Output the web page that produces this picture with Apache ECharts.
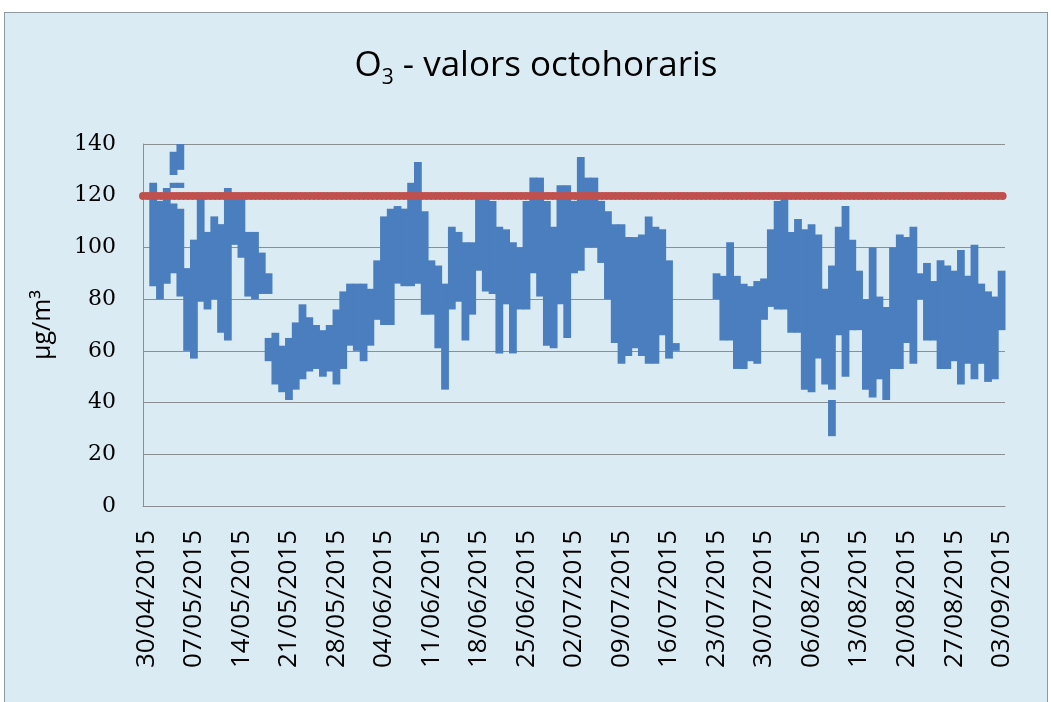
<!DOCTYPE html>
<html>
<head>
<meta charset="utf-8">
<script src="https://cdn.jsdelivr.net/npm/echarts@6/dist/echarts.min.js"></script>
<style>
html,body{margin:0;padding:0;background:#ffffff;}
#panel{position:absolute;left:4px;top:12px;width:1042px;height:700px;background:#dbebf3;border:1px solid #8f9aa0;}
#chart{position:absolute;left:0;top:0;width:1051px;height:702px;}
</style>
</head>
<body>
<div id="panel"></div>
<div id="chart"></div>
<script>
const days = [
'30/04/2015',
'01/05/2015','02/05/2015','03/05/2015','04/05/2015','05/05/2015','06/05/2015','07/05/2015','08/05/2015','09/05/2015','10/05/2015',
'11/05/2015','12/05/2015','13/05/2015','14/05/2015','15/05/2015','16/05/2015','17/05/2015','18/05/2015','19/05/2015','20/05/2015',
'21/05/2015','22/05/2015','23/05/2015','24/05/2015','25/05/2015','26/05/2015','27/05/2015','28/05/2015','29/05/2015','30/05/2015','31/05/2015',
'01/06/2015','02/06/2015','03/06/2015','04/06/2015','05/06/2015','06/06/2015','07/06/2015','08/06/2015','09/06/2015','10/06/2015',
'11/06/2015','12/06/2015','13/06/2015','14/06/2015','15/06/2015','16/06/2015','17/06/2015','18/06/2015','19/06/2015','20/06/2015',
'21/06/2015','22/06/2015','23/06/2015','24/06/2015','25/06/2015','26/06/2015','27/06/2015','28/06/2015','29/06/2015','30/06/2015',
'01/07/2015','02/07/2015','03/07/2015','04/07/2015','05/07/2015','06/07/2015','07/07/2015','08/07/2015','09/07/2015','10/07/2015',
'11/07/2015','12/07/2015','13/07/2015','14/07/2015','15/07/2015','16/07/2015','17/07/2015','18/07/2015','19/07/2015','20/07/2015',
'21/07/2015','22/07/2015','23/07/2015','24/07/2015','25/07/2015','26/07/2015','27/07/2015','28/07/2015','29/07/2015','30/07/2015','31/07/2015',
'01/08/2015','02/08/2015','03/08/2015','04/08/2015','05/08/2015','06/08/2015','07/08/2015','08/08/2015','09/08/2015','10/08/2015',
'11/08/2015','12/08/2015','13/08/2015','14/08/2015','15/08/2015','16/08/2015','17/08/2015','18/08/2015','19/08/2015','20/08/2015',
'21/08/2015','22/08/2015','23/08/2015','24/08/2015','25/08/2015','26/08/2015','27/08/2015','28/08/2015','29/08/2015','30/08/2015','31/08/2015',
'01/09/2015','02/09/2015','03/09/2015'
];

// daily highest and lowest octohorari value (µg/m3)
const dayHigh = [
null,125,118,123,117,115,92,103,119,106,
112,109,123,119,119,106,106,98,90,67,
62,65,71,78,73,70,68,70,76,83,
86,86,86,84,95,112,115,116,115,125,
133,114,95,93,86,108,106,102,102,121,
121,118,108,107,102,100,118,127,127,118,
108,124,124,118,135,127,127,118,114,109,
109,104,104,105,112,108,107,95,63,null,
null,null,null,null,90,89,102,89,86,85,
87,88,107,118,119,106,111,107,109,105,
84,93,108,116,103,91,80,100,81,77,
100,105,104,108,90,94,87,95,93,91,
99,89,101,86,83,81,91
];
const dayLow = [
null,85,80,86,90,81,60,57,79,76,
80,67,64,101,96,81,80,82,82,47,
44,41,45,49,52,53,50,52,47,53,
62,60,56,62,72,70,70,86,85,85,
86,74,74,61,45,76,79,64,74,91,
83,82,59,78,59,76,76,90,81,62,
61,78,65,90,91,100,100,94,80,63,
55,58,61,58,55,55,66,57,60,null,
null,null,null,null,80,64,64,53,53,56,
55,72,77,76,76,67,67,45,44,57,
47,45,66,50,68,68,45,42,49,41,
53,53,63,55,80,64,64,53,53,56,
47,55,49,55,48,49,68
];

// separate blocks of values lying apart from the main daily column
const extraDay  = [4, 4, 5, 5, 18, 101];
const extraLow  = [128, 123, 130, 123, 56, 27];
const extraHigh = [137, 125, 140, 125, 65, 41];

const limitValue = 120;
const yTicks = [0, 20, 40, 60, 80, 100, 120, 140];

const rangeData = [];
for (let i = 0; i < days.length; i++) {
  if (dayHigh[i] != null && dayLow[i] != null) rangeData.push([i, dayLow[i], dayHigh[i]]);
}
for (let k = 0; k < extraDay.length; k++) rangeData.push([extraDay[k], extraLow[k], extraHigh[k]]);

const blue = '#4a7ebf';
const chart = echarts.init(document.getElementById('chart'), null, {renderer: 'canvas'});
chart.setOption({
  backgroundColor: 'transparent',
  animation: false,
  title: {
    text: '{a|O}{b|3}{a| - valors octohoraris}',
    left: 531, top: 38, textAlign: 'center',
    textStyle: {
      fontWeight: 'normal',
      rich: {
        a: {fontFamily: 'Open Sans', fontSize: 35, fontWeight: 'normal', color: '#000', lineHeight: 46},
        b: {fontFamily: 'Open Sans', fontSize: 21, fontWeight: 'normal', color: '#000', lineHeight: 30, verticalAlign: 'bottom'}
      }
    }
  },
  grid: {left: 143, top: 144, right: 46, bottom: 196, containLabel: false},
  xAxis: {
    type: 'category',
    data: days,
    boundaryGap: true,
    axisLine: {show: true, lineStyle: {color: '#8a8f93', width: 1}},
    axisTick: {show: false},
    axisLabel: {
      interval: 6, rotate: 90, margin: 24,
      fontFamily: 'Open Sans', fontSize: 26, color: '#000'
    },
    splitLine: {show: false}
  },
  yAxis: {
    type: 'value', min: yTicks[0], max: yTicks[yTicks.length - 1], interval: 20,
    name: 'µg/m³', nameLocation: 'middle', nameGap: 88, nameRotate: 90,
    nameTextStyle: {fontFamily: 'Open Sans', fontSize: 25, color: '#000'},
    axisLine: {show: true, lineStyle: {color: '#8a8f93', width: 1}},
    axisTick: {show: false},
    axisLabel: {margin: 27, fontFamily: 'DejaVu Serif', fontSize: 22, color: '#000'},
    splitLine: {show: true, lineStyle: {color: '#8a8f93', width: 1}}
  },
  series: [
    {
      type: 'custom',
      name: 'O3',
      data: rangeData,
      encode: {x: 0, y: [1, 2]},
      renderItem: function (params, api) {
        const x = api.value(0), lo = api.value(1), hi = api.value(2);
        const pTop = api.coord([x, hi]);
        const pBot = api.coord([x, lo]);
        const w = api.size([1, 0])[0];
        return {
          type: 'rect',
          shape: {x: pTop[0] - w / 2 - 0.5, y: pTop[1], width: w + 1, height: pBot[1] - pTop[1]},
          style: {fill: blue}
        };
      },
      z: 2
    },
    {
      type: 'line',
      name: 'limit',
      data: [],
      markLine: {
        silent: true,
        symbol: 'none',
        label: {show: false},
        lineStyle: {color: '#c0504d', width: 8, type: [0.1, 4.4], cap: 'round', opacity: 1},
        data: [{yAxis: limitValue}]
      },
      z: 5
    }
  ]
});
</script>
</body>
</html>
